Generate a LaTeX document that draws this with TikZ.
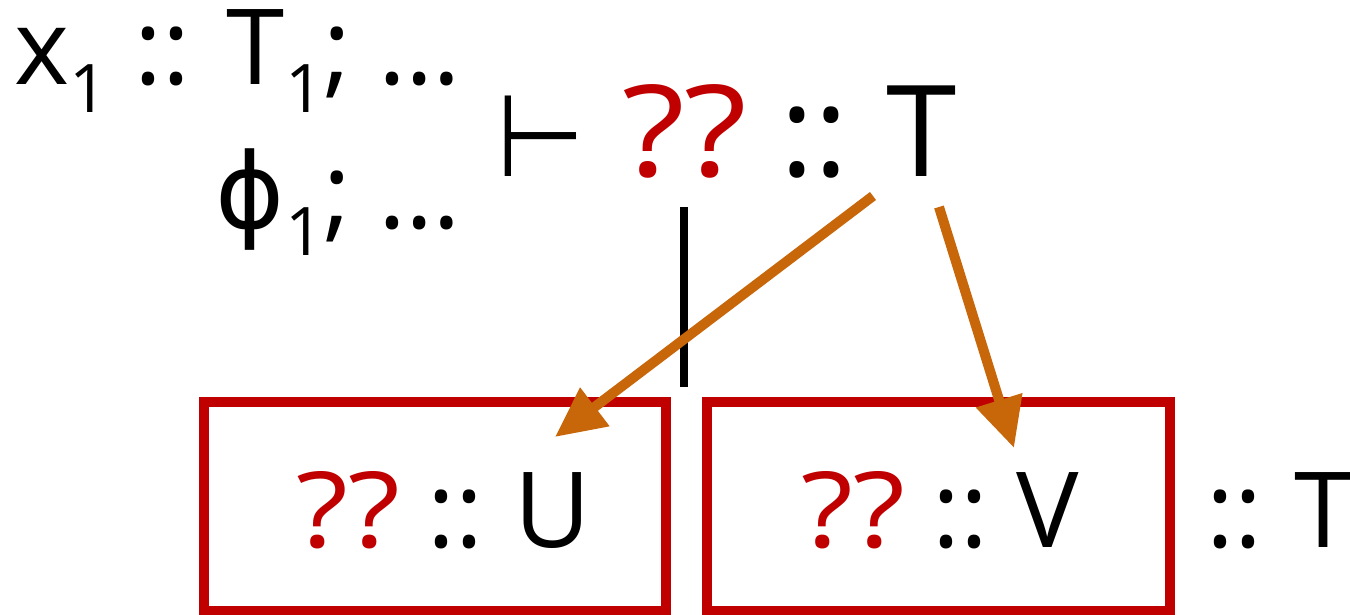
\documentclass[tikz,border=0pt]{standalone}
\usepackage{fontspec}
\setmainfont{Open Sans}
\newfontfamily\dejavu{DejaVu Sans}
\usetikzlibrary{arrows.meta}
\definecolor{qred}{RGB}{192,0,0}
\definecolor{qorange}{RGB}{200,102,10}
\newcommand\sbs[1]{\raisebox{-28pt}{\fontsize{67}{70}\selectfont #1}}
\newcommand\qq{\textcolor{qred}{\scalebox{1.15}[1]{??}}}
\tikzset{
  ctx/.style={inner sep=0pt, font=\fontsize{105}{120}\selectfont},
  goal/.style={inner sep=0pt, font=\fontsize{127}{140}\selectfont},
  hole/.style={draw=qred, line width=10pt},
  refine/.style={draw=qorange, line width=10pt, -{Triangle[length=50pt,width=46pt]}},
  bar/.style={draw=black, line width=8pt}
}
\begin{document}
\begin{tikzpicture}[x=1pt,y=-1pt]
\useasboundingbox (0,0) rectangle (1350,615);
\node[ctx, anchor=base west] (ctx1) at (14,85) {x\sbs{1} :: T\sbs{1}; …};
\node[ctx, anchor=base east] (ctx2) at (ctx1.base east |- 0,228) {{\dejavu ϕ}\sbs{1}; …};
\node[inner sep=0pt, anchor=base west, font=\fontsize{115}{130}\selectfont] (turn) at (496,176) {\scalebox{0.885}[1]{\dejavu ⊢}};
\node[goal, anchor=base west] (goalT) at (622,176) {\qq{} ::\kern-5pt{} T};
\coordinate (barTop) at (684,207);
\coordinate (barBot) at (684,387);
\draw[bar] (barTop) -- (barBot);
\draw[hole] (204,402) rectangle (666,611);
\draw[hole] (707,402) rectangle (1170,611);
\node[ctx, anchor=base west] (boxU) at (296,547) {\qq{} ::\kern-5pt{} U};
\node[ctx, anchor=base west] (boxV) at (801,547) {\qq{} ::\kern-8pt{} V};
\node[ctx, anchor=base west] (restT) at (1206,547) {::\kern-4pt{} T};
\coordinate (a1s) at (873,196);
\coordinate (a1e) at (555,437);
\coordinate (a2s) at (939,207);
\coordinate (a2e) at (1014,448);
\draw[refine] (a1s) -- (a1e);
\draw[refine] (a2s) -- (a2e);
\end{tikzpicture}
\end{document}
